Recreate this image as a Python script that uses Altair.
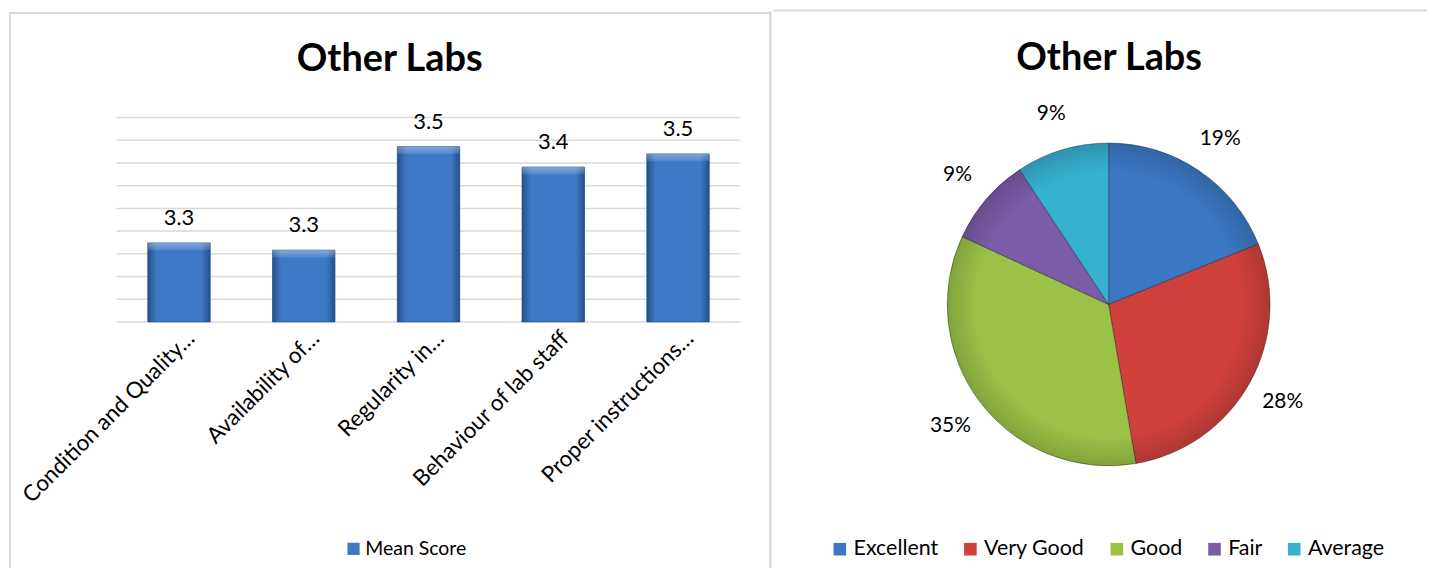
import altair as alt
import pandas as pd

TITLE = "Other Labs"

# Bar chart data
bar_categories = ["Condition and Quality…", "Availability of…", "Regularity in…",
                  "Behaviour of lab staff", "Proper instructions…"]
bar_values = [3.274, 3.258, 3.486, 3.441, 3.470]
bar_series = "Mean Score"
grid_values = [3.10, 3.15, 3.20, 3.25, 3.30, 3.35, 3.40, 3.45, 3.50, 3.55]

# Pie chart data
pie_categories = ["Excellent", "Very Good", "Good", "Fair", "Average"]
pie_values = [18.9, 28.4, 34.6, 8.8, 9.3]
pie_labels = ["19%", "28%", "35%", "9%", "9%"]
pie_colors = ["#3b78c2", "#d0413d", "#9bc247", "#7a5ca8", "#36b1d2"]
bar_color = "#3d79c4"

FONT = "Lato"
FRAME = "#d9d9d9"
GRID = "#d9d9d9"

LW, RW, H = 764, 656, 561

df_bar = pd.DataFrame({"cat": bar_categories, "value": bar_values,
                       "series": [bar_series] * len(bar_categories)})
df_grid = pd.DataFrame({"g": grid_values})
df_pie = pd.DataFrame({"cat": pie_categories, "value": pie_values,
                       "label": pie_labels, "idx": list(range(len(pie_categories)))})
df_title = pd.DataFrame({"t": [TITLE]})
df_one = pd.DataFrame({"k": [0]})

xscale = alt.Scale(domain=bar_categories, range=[108, 734], paddingInner=0.5, paddingOuter=0.25)
yscale = alt.Scale(domain=[3.1, 3.55], range=[314, 109], zero=False, nice=False)

no_view = alt.ViewBackground(stroke="transparent", strokeWidth=0, strokeOpacity=0)

# ---------- left panel ----------
frame_l = alt.Chart(df_one).mark_rule(color=FRAME, strokeWidth=2).encode(
    x=alt.value(1), y=alt.value(4), y2=alt.value(H))
frame_t = alt.Chart(df_one).mark_rule(color=FRAME, strokeWidth=2).encode(
    x=alt.value(0), x2=alt.value(LW), y=alt.value(4))
frame_r = alt.Chart(df_one).mark_rule(color=FRAME, strokeWidth=2.5).encode(
    x=alt.value(764), y=alt.value(2.5), y2=alt.value(H))

grid = alt.Chart(df_grid).mark_rule(color=GRID, strokeWidth=1.5).encode(
    y=alt.Y("g:Q", scale=yscale, axis=None),
    x=alt.value(108), x2=alt.value(734))

bars = alt.Chart(df_bar).mark_bar(stroke="#2f5f9c", strokeWidth=0.8).encode(
    x=alt.X("cat:N", scale=xscale, sort=bar_categories, axis=None),
    y=alt.Y("value:Q", scale=yscale, axis=None),
    y2=alt.datum(3.1),
    color=alt.Color("series:N",
                    scale=alt.Scale(domain=[bar_series], range=[bar_color]),
                    legend=alt.Legend(orient="none", legendX=336, legendY=532,
                                      title=None, labelFont=FONT, labelFontSize=19.5,
                                      labelColor="#000000", symbolType="square",
                                      symbolSize=150, symbolStrokeWidth=0,
                                      labelOffset=2, padding=0)))

bevel = alt.LinearGradient(
    gradient="linear",
    stops=[alt.GradientStop(color="rgba(10,30,70,0.45)", offset=0),
           alt.GradientStop(color="rgba(10,30,70,0)", offset=0.14),
           alt.GradientStop(color="rgba(10,30,70,0)", offset=0.86),
           alt.GradientStop(color="rgba(10,30,70,0.45)", offset=1)],
    x1=0, x2=1, y1=0, y2=0)
bars_bevel = alt.Chart(df_bar).mark_bar(fill=bevel).encode(
    x=alt.X("cat:N", scale=xscale, sort=bar_categories, axis=None),
    y=alt.Y("value:Q", scale=yscale, axis=None),
    y2=alt.datum(3.1))

top_light = alt.LinearGradient(
    gradient="linear",
    stops=[alt.GradientStop(color="rgba(255,255,255,0.35)", offset=0),
           alt.GradientStop(color="rgba(255,255,255,0.10)", offset=1)],
    x1=0, x2=0, y1=0, y2=1)
bars_top = alt.Chart(df_bar).transform_calculate(
    low="datum.value - 0.016").mark_bar(fill=top_light).encode(
    x=alt.X("cat:N", scale=xscale, sort=bar_categories, axis=None),
    y=alt.Y("value:Q", scale=yscale, axis=None),
    y2="low:Q")

value_labels = alt.Chart(df_bar).mark_text(font=FONT, fontSize=22, color="#000000",
                                           baseline="middle", dy=-25).encode(
    x=alt.X("cat:N", scale=xscale, sort=bar_categories, axis=None),
    y=alt.Y("value:Q", scale=yscale, axis=None),
    text=alt.Text("value:Q", format=".1f"))

cat_labels = alt.Chart(df_bar).mark_text(font=FONT, fontSize=22.5, color="#000000",
                                         angle=315, align="right", baseline="alphabetic",
                                         dx=12, dy=12).encode(
    x=alt.X("cat:N", scale=xscale, sort=bar_categories, axis=None),
    y=alt.value(332),
    text="cat:N")

title_l = alt.Chart(df_title).mark_text(font=FONT, fontSize=38, fontWeight="bold",
                                        color="#000000", align="center",
                                        baseline="alphabetic").encode(
    text="t:N", x=alt.value(382), y=alt.value(62))

left = alt.layer(frame_l, frame_t, frame_r, grid, bars, bars_bevel, bars_top,
                 value_labels, cat_labels, title_l).properties(
    width=LW, height=H, view=no_view)

# ---------- right panel ----------
frame_t2 = alt.Chart(df_one).mark_rule(color=FRAME, strokeWidth=2).encode(
    x=alt.value(0), x2=alt.value(RW), y=alt.value(1.5))

CX, CY = 336.5, 296.5

arcs = alt.Chart(df_pie).mark_arc(outerRadius=162, stroke="rgba(0,0,0,0.35)",
                                  strokeWidth=1).encode(
    theta=alt.Theta("value:Q", stack=True),
    order=alt.Order("idx:Q"),
    color=alt.Color("cat:N",
                    scale=alt.Scale(domain=pie_categories, range=pie_colors),
                    legend=alt.Legend(orient="none", legendX=56, legendY=531,
                                      direction="horizontal", columns=5,
                                      title=None, labelFont=FONT, labelFontSize=21.5,
                                      labelColor="#000000", symbolType="square",
                                      symbolSize=160, symbolStrokeWidth=0,
                                      labelOffset=3, columnPadding=21, padding=0)),
    x=alt.value(CX), y=alt.value(CY))

rim = alt.RadialGradient(
    gradient="radial", x1=0.5, y1=0.5, r1=0, x2=0.5, y2=0.5, r2=0.5,
    stops=[alt.GradientStop(color="rgba(0,0,0,0)", offset=0),
           alt.GradientStop(color="rgba(0,0,0,0)", offset=0.82),
           alt.GradientStop(color="rgba(0,0,0,0.16)", offset=1)])
pie_rim = alt.Chart(df_one).mark_arc(outerRadius=162, theta=0, theta2=6.2832,
                                     fill=rim).encode(
    x=alt.value(CX), y=alt.value(CY))

pie_text = alt.Chart(df_pie).mark_text(radius=200, font=FONT, fontSize=21,
                                       color="#000000", align="center",
                                       baseline="middle").encode(
    theta=alt.Theta("value:Q", stack=True),
    order=alt.Order("idx:Q"),
    text="label:N",
    x=alt.value(CX), y=alt.value(CY))

title_r = alt.Chart(df_title).mark_text(font=FONT, fontSize=38, fontWeight="bold",
                                        color="#000000", align="center",
                                        baseline="alphabetic").encode(
    text="t:N", x=alt.value(337), y=alt.value(61))

right = alt.layer(frame_t2, arcs, pie_rim, pie_text, title_r).properties(
    width=RW, height=H, view=no_view)

chart = alt.hconcat(left, right, spacing=0, padding=0).resolve_scale(
    color="independent", x="independent", y="independent", theta="independent"
).configure_view(stroke="transparent", strokeWidth=0).configure(font=FONT)

chart.save("out.html", embed_options={"renderer": "svg", "actions": False})
